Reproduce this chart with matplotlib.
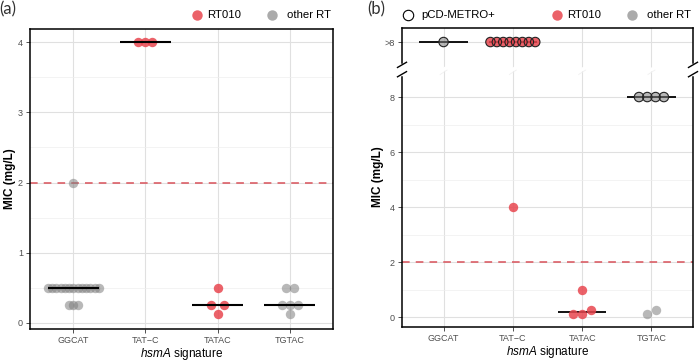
import numpy as np
import matplotlib
matplotlib.use("Agg")
import matplotlib.pyplot as plt
from matplotlib.lines import Line2D
import matplotlib.transforms as mtrans

plt.rcParams['font.family'] = ['Liberation Sans', 'DejaVu Sans']
plt.rcParams['mathtext.fontset'] = 'custom'
plt.rcParams['mathtext.it'] = 'Liberation Sans:italic'
plt.rcParams['mathtext.rm'] = 'Liberation Sans'

# ---------------- data ----------------
categories = ['GGCAT', 'TAT\u2212C', 'TATAC', 'TGTAC']

# panel (a)
a_cat = (['GGCAT'] * 17 + ['TAT\u2212C'] * 3 + ['TATAC'] * 4 + ['TGTAC'] * 6)
a_mic = ([0.5] * 13 + [0.25] * 3 + [2.0]
         + [4.0, 4.0, 4.0]
         + [0.5, 0.25, 0.25, 0.125]
         + [0.5, 0.5, 0.25, 0.25, 0.25, 0.125])
a_rt = (['other RT'] * 17 + ['RT010'] * 3 + ['RT010'] * 4 + ['other RT'] * 6)

# panel (b)  (">8" = above the highest tested concentration)
b_cat = (['GGCAT'] + ['TAT\u2212C'] * 9 + ['TATAC'] * 4 + ['TGTAC'] * 6)
b_mic = (['>8']
         + ['>8'] * 8 + ['4']
         + ['1', '0.125', '0.125', '0.25']
         + ['8', '8', '8', '8', '0.125', '0.25'])
b_rt = (['other RT'] + ['RT010'] * 9 + ['RT010'] * 4 + ['other RT'] * 6)
b_pcd = ([True] + [True] * 8 + [False] + [False] * 4 + [True] * 4 + [False] * 2)

breakpoint_mic = 2.0
gt8_label = '>8'

# ---------------- style ----------------
RED = '#E8464F'
GREY = '#7F7F7F'
W, H = 699, 361
fig = plt.figure(figsize=(W / 100, H / 100), dpi=100)


def fpos(x, y):
    return x / W, 1 - y / H


axa = fig.add_axes([30 / W, 1 - 329 / H, 303 / W, 300 / H])
axb = fig.add_axes([402 / W, 1 - 327 / H, 291 / W, 299 / H])

GT8_POS = 10.0  # display position for ">8"


def to_num(v):
    return GT8_POS if v == gt8_label else float(v)


def raw_num(v):
    return 16.0 if v == gt8_label else float(v)


def style_axes(ax):
    for s in ax.spines.values():
        s.set_color('black')
        s.set_linewidth(1.1)
    ax.set_axisbelow(True)
    ax.grid(True, which='major', color='#E0E0E0', lw=0.8)
    ax.grid(True, which='minor', axis='y', color='#EEEEEE', lw=0.5)
    ax.tick_params(axis='both', which='major', direction='out', length=3,
                   width=0.6, color='#333333', labelsize=6.5,
                   labelcolor='#4D4D4D', pad=2)
    ax.tick_params(axis='both', which='minor', length=0)
    ax.set_xticks(range(1, len(categories) + 1))
    ax.set_xticklabels(categories)
    ax.set_xlim(0.4, len(categories) + 0.6)


def swarm_x(ax, cats, ys, spacing_px, thresh_px=6.0):
    """Simple beeswarm: points of one category with nearly equal pixel
    height are spread symmetrically around the category centre."""
    xs = np.zeros(len(ys))
    cat_idx = np.array([categories.index(c) + 1 for c in cats], dtype=float)
    ypix = ax.transData.transform(np.c_[cat_idx, ys])[:, 1]
    px_per_x = (ax.transData.transform([[1, 0]]) - ax.transData.transform([[0, 0]]))[0, 0]
    for c in np.unique(cat_idx):
        idx = np.where(cat_idx == c)[0]
        idx = idx[np.argsort(ypix[idx], kind='stable')]
        groups, cur = [], [idx[0]]
        for i in idx[1:]:
            if abs(ypix[i] - ypix[cur[-1]]) < thresh_px:
                cur.append(i)
            else:
                groups.append(cur)
                cur = [i]
        groups.append(cur)
        sp = spacing_px[categories[int(c) - 1]]
        for g in groups:
            n = len(g)
            offs = (np.arange(n) - (n - 1) / 2) * sp / px_per_x
            xs[g] = c + offs
    return xs


PT_S = 46

# ---------------- panel (a) ----------------
style_axes(axa)
axa.set_ylim(-0.09, 4.19)
axa.set_yticks([0, 1, 2, 3, 4])
axa.set_yticks([0.5, 1.5, 2.5, 3.5], minor=True)
axa.axhline(breakpoint_mic, color='#D9525A', lw=1.1, ls=(0, (5, 4)), zorder=1.5)

a_y = np.array(a_mic)
a_x = swarm_x(axa, a_cat, a_y, {'GGCAT': 4.25, 'TAT\u2212C': 7.0,
                                'TATAC': 13.0, 'TGTAC': 8.0})
for rt, col, al in [('other RT', GREY, 0.55), ('RT010', RED, 0.85)]:
    m = np.array([r == rt for r in a_rt])
    axa.scatter(a_x[m], a_y[m], s=PT_S, color=col, alpha=al, lw=0, zorder=3)
for i, c in enumerate(categories):
    vals = [v for cc, v in zip(a_cat, a_mic) if cc == c]
    if vals:
        axa.plot([i + 1 - 0.35, i + 1 + 0.35], [np.median(vals)] * 2,
                 color='black', lw=1.5, zorder=4, solid_capstyle='butt')

# ---------------- panel (b) ----------------
style_axes(axb)
axb.set_ylim(-0.36, 10.51)
axb.set_yticks([0, 2, 4, 6, 8, GT8_POS])
axb.set_yticklabels(['0', '2', '4', '6', '8', gt8_label])
axb.set_yticks([1, 3, 5, 7], minor=True)
axb.axhline(breakpoint_mic, color='#D9525A', lw=1.1, ls=(0, (5, 4)), zorder=1.5)

b_y = np.array([to_num(v) for v in b_mic])
b_x = swarm_x(axb, b_cat, b_y, {'GGCAT': 7.0, 'TAT\u2212C': 6.4,
                                'TATAC': 9.0, 'TGTAC': 8.3})
for i, c in enumerate(categories):
    vals = [raw_num(v) for cc, v in zip(b_cat, b_mic) if cc == c]
    if vals:
        med = np.median(vals)
        med_pos = GT8_POS if med > 8 else med
        axb.plot([i + 1 - 0.35, i + 1 + 0.35], [med_pos] * 2,
                 color='black', lw=1.3, zorder=2.5, solid_capstyle='butt')
for k in range(len(b_y)):
    col = RED if b_rt[k] == 'RT010' else GREY
    al = 0.85 if b_rt[k] == 'RT010' else 0.55
    if b_pcd[k]:
        axb.scatter(b_x[k], b_y[k], s=PT_S, facecolor=col, alpha=al,
                    edgecolor='none', lw=0, zorder=3)
        axb.scatter(b_x[k], b_y[k], s=PT_S, facecolor='none',
                    edgecolor='#222222', lw=0.8, zorder=3.1)
    else:
        axb.scatter(b_x[k], b_y[k], s=PT_S, color=col, alpha=al, lw=0, zorder=3)

# axis break
yb, gap = 9.0, 0.17
tr = mtrans.blended_transform_factory(axb.transAxes, axb.transData)
dx = 4.5 / 291
dy = 2.6 / 27.5
for xs in (0, 1):
    axb.add_line(Line2D([xs, xs], [yb - gap, yb + gap], transform=tr,
                        color='white', lw=2.5, clip_on=False, zorder=5))
    for yy in (yb - gap, yb + gap):
        axb.add_line(Line2D([xs - dx, xs + dx], [yy - dy, yy + dy], transform=tr,
                            color='black', lw=1.0, clip_on=False, zorder=6))
for i in range(len(categories)):
    axb.plot([i + 1 - 0.05, i + 1 + 0.05], [yb - 0.08, yb + 0.08],
             color='white', lw=2.5, zorder=1)
    axb.plot([i + 1 - 0.05, i + 1 + 0.05], [yb - 0.08 - 0.1, yb + 0.08 - 0.1],
             color='#F0F0F0', lw=0.6, zorder=1)

# ---------------- labels ----------------
for ax in (axa, axb):
    ax.set_xlabel(r'$\it{hsmA}$ signature', fontsize=8.5, labelpad=1)
fig.text(*fpos(10, 179), 'MIC (mg/L)', rotation=90, ha='center', va='center',
         fontsize=8.5, fontweight='bold')
fig.text(*fpos(378, 177), 'MIC (mg/L)', rotation=90, ha='center', va='center',
         fontsize=8.5, fontweight='bold')
fig.text(*fpos(-1, 9), '(a)', ha='left', va='center', fontsize=12,
         family=['Lato', 'DejaVu Sans'], fontweight='normal', color='#333333')
fig.text(*fpos(367, 9), '(b)', ha='left', va='center', fontsize=12,
         family=['Lato', 'DejaVu Sans'], fontweight='normal', color='#333333')


# legends
def legend_item(x, y, tx, label, fc, ec='none', al=1.0):
    fig.add_artist(Line2D([x / W], [1 - y / H], marker='o', markersize=7.5,
                          markerfacecolor=fc, markeredgecolor=ec,
                          markeredgewidth=0.8, alpha=al, ls='none',
                          transform=fig.transFigure))
    fig.text(tx / W, 1 - y / H, label, ha='left', va='center', fontsize=8.2)


legend_item(197, 15, 207, 'RT010', RED, al=0.85)
legend_item(272, 15, 287, 'other RT', '#ABABAB')
legend_item(408, 15, 421, 'pCD-METRO+', 'white', ec='black')
legend_item(557, 15, 567, 'RT010', RED, al=0.85)
legend_item(632, 15, 647, 'other RT', '#ABABAB')

fig.savefig('out.png', dpi=100)
